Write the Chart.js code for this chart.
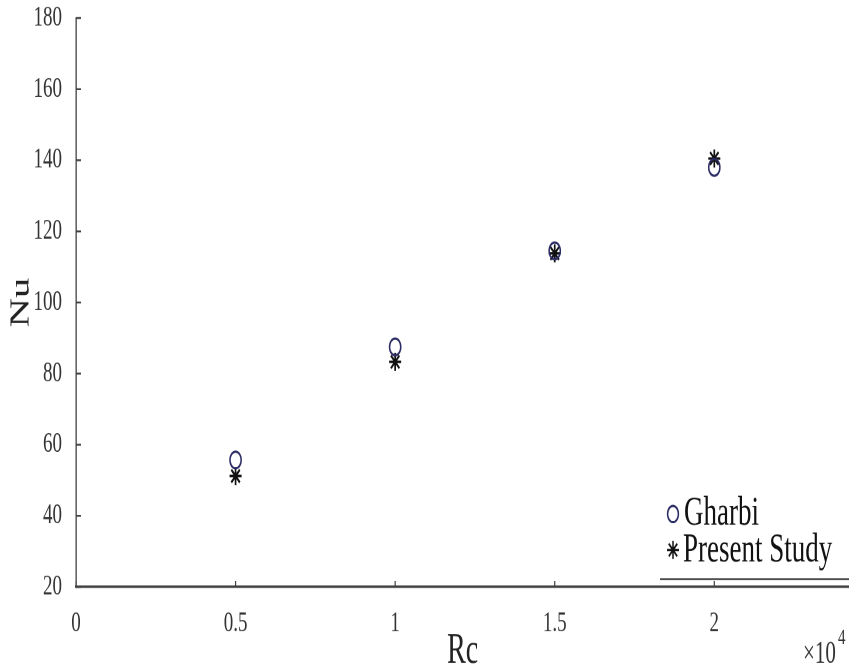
<!DOCTYPE html>
<html>
<head>
<meta charset="utf-8">
<script src="https://cdn.jsdelivr.net/npm/chart.js"></script>
<style>
  html, body { margin:0; padding:0; background:#fff; overflow:hidden; width:849px; height:668px; }
  #wrap { position:absolute; left:0; top:0; width:857px; height:450px; transform:scaleY(1.5011); transform-origin:0 0; }
  #c { width:857px; height:450px; display:block; }
</style>
</head>
<body>
<div id="wrap"><canvas id="c" width="857" height="450"></canvas></div>
<script>
// ---- data ----
const rcValues   = [5000, 10000, 15000, 20000];
const gharbiNu   = [55.7, 87.5, 114.5, 138.0];
const presentNu  = [51.2, 83.3, 113.8, 140.5];
const seriesNames = ['Gharbi', 'Present Study'];
const xTickValues = [0, 5000, 10000, 15000, 20000];
const yTickValues = [20, 40, 60, 80, 100, 120, 140, 160, 180];
const xTitle = 'Rc';
const yTitle = 'Nu';
const xExponentBase = '\u00d710';
const xExponent = '4';

const SERIF = '"Liberation Serif", "Times New Roman", "DejaVu Serif", serif';
Chart.defaults.font.family = SERIF;
Chart.defaults.color = '#2a2a2a';

const CIRCLE_COLOR = '#2c2c64';
const STAR_COLOR = '#111111';

function drawMarker(ctx, style, x, y, r, color) {
  ctx.save();
  ctx.strokeStyle = color;
  ctx.lineWidth = 1.5;
  ctx.beginPath();
  if (style === 'circle') {
    ctx.arc(x, y, r, 0, Math.PI * 2);
  } else {
    for (let k = 0; k < 4; k++) {
      const a = k * Math.PI / 4;
      ctx.moveTo(x - r * Math.cos(a), y - r * Math.sin(a));
      ctx.lineTo(x + r * Math.cos(a), y + r * Math.sin(a));
    }
  }
  ctx.stroke();
  ctx.restore();
}

const extras = {
  id: 'extras',
  afterDraw(chart) {
    const ctx = chart.ctx;
    const xs = chart.scales.x, ys = chart.scales.y;
    const ca = chart.chartArea;
    ctx.save();
    // inward tick marks
    ctx.strokeStyle = '#404040';
    ctx.lineWidth = 1.2;
    ctx.beginPath();
    xs.ticks.forEach(t => {
      const px = xs.getPixelForValue(t.value);
      ctx.moveTo(px, ca.bottom);
      ctx.lineTo(px, ca.bottom - 4);
    });
    ys.ticks.forEach(t => {
      const py = ys.getPixelForValue(t.value);
      ctx.moveTo(ca.left, py);
      ctx.lineTo(ca.left + 5, py);
    });
    ctx.stroke();

    // legend (lower right inside the axes)
    ctx.fillStyle = '#111';
    ctx.font = '27px ' + SERIF;
    ctx.textBaseline = 'middle';
    ctx.textAlign = 'left';
    drawMarker(ctx, 'circle', 673, 342.4, 5.4, CIRCLE_COLOR);
    ctx.fillText(seriesNames[0], 684, 342.5);
    drawMarker(ctx, 'star', 673, 366.4, 6, STAR_COLOR);
    ctx.fillText(seriesNames[1], 683, 367);
    ctx.strokeStyle = '#505050';
    ctx.lineWidth = 1.4;
    ctx.beginPath();
    ctx.moveTo(660, 385.8);
    ctx.lineTo(849, 385.8);
    ctx.stroke();

    // x10^4 multiplier
    ctx.fillStyle = '#333';
    ctx.font = '21px ' + SERIF;
    ctx.fillText(xExponentBase, 803, 436);
    ctx.font = '15px ' + SERIF;
    ctx.fillText(xExponent, 838, 425);
    ctx.restore();
  }
};

new Chart(document.getElementById('c'), {
  type: 'scatter',
  data: {
    datasets: [
      {
        label: seriesNames[0],
        data: rcValues.map((x, i) => ({x: x, y: gharbiNu[i]})),
        pointStyle: 'circle',
        pointRadius: 5.6,
        pointBorderWidth: 1.5,
        borderColor: CIRCLE_COLOR,
        backgroundColor: 'rgba(0,0,0,0)'
      },
      {
        label: seriesNames[1],
        data: rcValues.map((x, i) => ({x: x, y: presentNu[i]})),
        pointStyle: 'star',
        pointRadius: 6,
        pointBorderWidth: 1.7,
        borderColor: STAR_COLOR,
        backgroundColor: 'rgba(0,0,0,0)'
      }
    ]
  },
  options: {
    responsive: false,
    animation: false,
    devicePixelRatio: 2,
    layout: { padding: { top: 12, right: 0, left: 0, bottom: 0 } },
    plugins: { legend: { display: false }, tooltip: { enabled: false } },
    scales: {
      x: {
        type: 'linear',
        min: 0,
        max: 24230,
        afterFit(s) { s.height = 59; s.paddingLeft = 0; s.paddingRight = 0; },
        afterBuildTicks(s) { s.ticks = xTickValues.map(v => ({value: v})); },
        ticks: {
          padding: 5,
          maxRotation: 0,
          autoSkip: false,
          color: '#333',
          font: { size: 19, family: SERIF },
          callback: v => String(v / 10000)
        },
        grid: { display: false },
        border: { display: true, color: '#404040', width: 1.6 },
        title: {
          display: true,
          text: xTitle,
          color: '#222',
          font: { size: 28, family: SERIF, lineHeight: 1 },
          padding: { top: 0, bottom: 2 }
        }
      },
      y: {
        type: 'linear',
        min: 20,
        max: 180,
        afterFit(s) { s.width = 76; s.paddingTop = 0; s.paddingBottom = 0; },
        afterBuildTicks(s) { s.ticks = yTickValues.map(v => ({value: v})); },
        ticks: {
          padding: 6,
          autoSkip: false,
          color: '#333',
          font: { size: 19, family: SERIF }
        },
        grid: { display: false },
        border: { display: true, color: '#404040', width: 1.3 },
        title: {
          display: true,
          text: yTitle,
          color: '#222',
          font: { size: 27, family: SERIF, lineHeight: 1 },
          padding: { top: 8, bottom: 0 }
        }
      }
    }
  },
  plugins: [extras]
});
</script>
</body>
</html>
